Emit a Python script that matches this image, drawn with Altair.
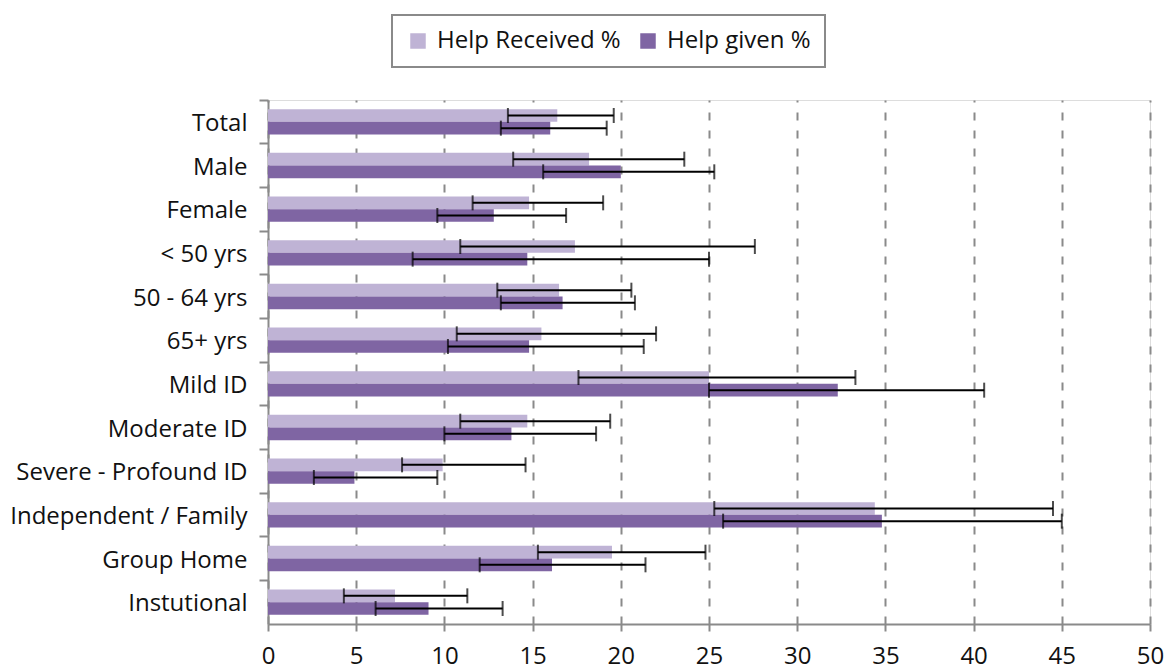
import altair as alt
import pandas as pd

categories = ["Total", "Male", "Female", "< 50 yrs", "50 - 64 yrs", "65+ yrs",
              "Mild ID", "Moderate ID", "Severe - Profound ID",
              "Independent / Family", "Group Home", "Instutional"]
series = ["Help Received %", "Help given %"]

received = [16.4, 18.2, 14.8, 17.4, 16.5, 15.5, 25.0, 14.7, 9.9, 34.4, 19.5, 7.2]
received_lo = [13.6, 13.9, 11.6, 10.9, 13.0, 10.7, 17.6, 10.9, 7.6, 25.3, 15.3, 4.3]
received_hi = [19.6, 23.6, 19.0, 27.6, 20.6, 22.0, 33.3, 19.4, 14.6, 44.5, 24.8, 11.3]

given = [16.0, 20.0, 12.8, 14.7, 16.7, 14.8, 32.3, 13.8, 4.9, 34.8, 16.1, 9.1]
given_lo = [13.2, 15.6, 9.6, 8.2, 13.2, 10.2, 25.0, 10.0, 2.6, 25.8, 12.0, 6.1]
given_hi = [19.2, 25.3, 16.9, 25.0, 20.8, 21.3, 40.6, 18.6, 9.6, 45.0, 21.4, 13.3]

x_ticks = [0, 5, 10, 15, 20, 25, 30, 35, 40, 45, 50]

rows = []
for i, c in enumerate(categories):
    rows.append({"cat": c, "series": series[0], "value": received[i],
                 "lo": received_lo[i], "hi": received_hi[i]})
    rows.append({"cat": c, "series": series[1], "value": given[i],
                 "lo": given_lo[i], "hi": given_hi[i]})
df = pd.DataFrame(rows)

FONT = "Open Sans"
GRAY = "#8a8a8a"
TXT = "#111111"
W, H = 882, 524

yenc = alt.Y("cat:N", sort=categories, title=None,
             scale=alt.Scale(paddingInner=0, paddingOuter=0),
             axis=alt.Axis(bandPosition=0, labelOffset=2, tickSize=9,
                           tickColor=GRAY, tickWidth=2, domainColor=GRAY,
                           domainWidth=2, labelFontSize=24, labelFont=FONT,
                           labelColor=TXT, labelPadding=12, labelLimit=400,
                           grid=False))
yoff = alt.YOffset("series:N", sort=series,
                   scale=alt.Scale(paddingInner=0, paddingOuter=0.726))

xenc = alt.X("value:Q", title=None,
             scale=alt.Scale(domain=[0, 50], nice=False),
             axis=alt.Axis(values=x_ticks, tickSize=7, tickColor=GRAY, tickWidth=2,
                           domainColor=GRAY, domainWidth=2, labelFontSize=24,
                           labelFont=FONT, labelColor=TXT, labelPadding=13,
                           labelFlush=False,
                           grid=True, gridColor=GRAY, gridWidth=2,
                           gridDash=[8, 10]))

bars = alt.Chart(df).mark_bar().encode(
    x=xenc,
    y=yenc,
    yOffset=yoff,
    color=alt.Color("series:N", sort=series,
                    scale=alt.Scale(domain=series, range=["#BFB3D5", "#7F65A3"]),
                    legend=alt.Legend(title=None, orient="none", legendX=124,
                                      legendY=-85, direction="horizontal",
                                      strokeColor=GRAY, padding=14,
                                      symbolType="square", symbolSize=240,
                                      symbolStrokeWidth=0, labelFontSize=24,
                                      labelFont=FONT, labelColor=TXT,
                                      labelLimit=400,
                                      columnPadding=15, labelOffset=7)),
)

err = alt.Chart(df).mark_rule(color="black", strokeWidth=2).encode(
    x="lo:Q", x2="hi:Q", y=alt.Y("cat:N", sort=categories), yOffset=yoff)

cap_lo = alt.Chart(df).mark_tick(color="black", thickness=2, size=15).encode(
    x="lo:Q", y=alt.Y("cat:N", sort=categories), yOffset=yoff)
cap_hi = alt.Chart(df).mark_tick(color="black", thickness=2, size=15).encode(
    x="hi:Q", y=alt.Y("cat:N", sort=categories), yOffset=yoff)

chart = alt.layer(bars, err, cap_lo, cap_hi).properties(
    width=W, height=H,
    autosize=alt.AutoSizeParams(type="none"),
    padding={"left": 260, "top": 92, "right": 14, "bottom": 45},
).configure_view(stroke=None).configure(font=FONT).configure_legend(strokeWidth=2)

chart.save("out.html", embed_options={"renderer": "svg", "actions": False})
